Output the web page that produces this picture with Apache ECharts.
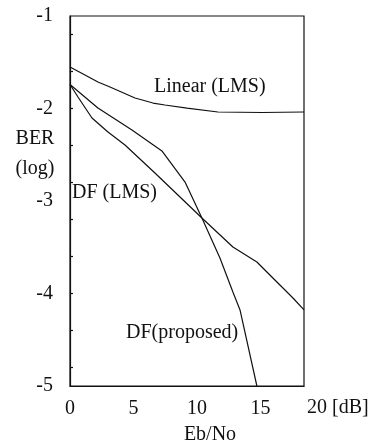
<!DOCTYPE html>
<html>
<head>
<meta charset="utf-8">
<script src="https://cdn.jsdelivr.net/npm/echarts@6/dist/echarts.min.js"></script>
<style>html,body{margin:0;padding:0;background:#fff;}#c{width:376px;height:447px;}</style>
</head>
<body>
<div id="c"></div>
<script>
// Data (x: Eb/No in dB, y: log10 BER)
const linearX = [0, 1.18, 2.2, 3.15, 5.12, 6.54, 7.48, 9.21, 11.65, 15.12, 18.43];
const linearY = [-1.551, -1.638, -1.714, -1.768, -1.886, -1.941, -1.962, -1.995, -2.038, -2.043, -2.038];
const dfLmsX = [0, 0.63, 1.73, 2.99, 4.33, 6.69, 10.39, 12.83, 14.72, 17.56, 18.43];
const dfLmsY = [-1.74, -1.876, -2.103, -2.254, -2.395, -2.697, -3.184, -3.497, -3.659, -4.049, -4.178];
const dfPropX = [0, 2.2, 4.88, 7.24, 9.06, 10.39, 11.81, 12.83, 13.39, 14.72];
const dfPropY = [-1.74, -1.995, -2.232, -2.459, -2.795, -3.184, -3.616, -3.984, -4.178, -5.0];
const xTickLabels = [0, 5, 10, 15];
const xEndLabel = '20 [dB]';
const yTickLabels = [-5, -4, -3, -2, -1];
const yMinorTicks = [-4.8, -4.4, -4.0, -3.6, -3.2, -2.8, -2.4, -2.0, -1.6, -1.2];
const seriesNames = ['Linear (LMS)', 'DF (LMS)', 'DF(proposed)'];

const pairs = (xs, ys) => xs.map((x, i) => [x, ys[i]]);
const FONT = '"Liberation Serif", "Times New Roman", serif';
const chart = echarts.init(document.getElementById('c'), null, {renderer: 'canvas'});
const lineStyle = {color: '#111', width: 1.2};
const mk = (name, d) => ({name, type: 'line', data: d, symbol: 'none', smooth: false, lineStyle, silent: true});
const txt = (text, x, y, align) => ({type: 'text', x, y, style: {text, font: '20px ' + FONT, fill: '#111', align, verticalAlign: 'middle'}});

chart.setOption({
  animation: false,
  backgroundColor: '#fff',
  grid: {left: 70, top: 16, right: 72, bottom: 61, show: true, borderColor: '#111', borderWidth: 1.2, backgroundColor: 'transparent'},
  xAxis: {
    type: 'value', min: 0, max: 18.43,
    axisLine: {show: true, lineStyle: {color: '#111', width: 1.2}},
    axisTick: {show: false},
    splitLine: {show: false},
    axisLabel: {customValues: xTickLabels, fontFamily: FONT, fontSize: 20, color: '#111', margin: 13}
  },
  yAxis: {
    type: 'value', min: -5, max: -1, interval: 1,
    axisLine: {show: true, lineStyle: {color: '#111', width: 1.2}},
    axisTick: {show: true, inside: true, length: 3, customValues: yMinorTicks, lineStyle: {color: '#111', width: 1.2}},
    splitLine: {show: false},
    axisLabel: {customValues: yTickLabels, fontFamily: FONT, fontSize: 20, color: '#111', margin: 17}
  },
  series: [
    mk(seriesNames[0], pairs(linearX, linearY)),
    mk(seriesNames[1], pairs(dfLmsX, dfLmsY)),
    mk(seriesNames[2], pairs(dfPropX, dfPropY))
  ],
  graphic: [
    txt(seriesNames[0], 154, 87, 'left'),
    txt(seriesNames[1], 72, 193, 'left'),
    txt(seriesNames[2], 126, 333, 'left'),
    txt('BER', 35, 139, 'center'),
    txt('(log)', 35, 169, 'center'),
    txt('Eb/No', 210, 435, 'center'),
    txt(xEndLabel, 307, 408, 'left')
  ]
});
</script>
</body>
</html>
